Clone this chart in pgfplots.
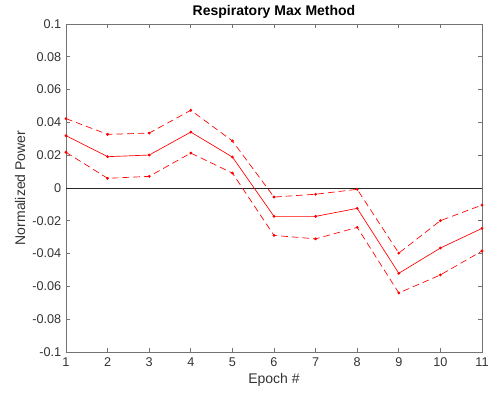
\documentclass[border=0pt]{standalone}
\usepackage{pgfplots}
\pgfplotsset{compat=1.18}
\usepackage{fontspec}
\setmainfont{Liberation Sans}
\definecolor{axgray}{gray}{0.45}
\definecolor{txtgray}{gray}{0.2}
\definecolor{mred}{rgb}{1,0,0}

\pgfplotstableread{
epoch mean upper lower
1   0.0319  0.0423  0.0218
2   0.0191  0.0327  0.0059
3   0.0201  0.0335  0.0071
4   0.0341  0.0474  0.0213
5   0.0189  0.0287  0.0091
6  -0.0173 -0.0055 -0.0289
7  -0.0173 -0.0038 -0.0310
8  -0.0124 -0.0008 -0.0240
9  -0.0520 -0.0397 -0.0640
10 -0.0366 -0.0199 -0.0530
11 -0.0246 -0.0104 -0.0384
}\resp

\begin{document}
\begin{tikzpicture}
\path[use as bounding box] (-49.5pt,-31.5pt) rectangle (318.75pt,264pt);
\begin{axis}[
  at={(0,0)}, anchor=south west,
  scale only axis, width=312pt, height=246pt,
  xmin=1, xmax=11, ymin=-0.1, ymax=0.1,
  xtick={1,...,11},
  ytick={-0.1,-0.08,-0.06,-0.04,-0.02,0,0.02,0.04,0.06,0.08,0.1},
  yticklabels={-0.1,-0.08,-0.06,-0.04,-0.02,0,0.02,0.04,0.06,0.08,0.1},
  xticklabels={1,2,3,4,5,6,7,8,9,10,11},
  tick align=inside,
  major tick length=3pt,
  axis line style={axgray, line width=0.5pt},
  every tick/.style={axgray, line width=0.5pt},
  tick label style={font=\fontsize{9.5}{11}\selectfont, text=txtgray},
  xticklabel style={yshift=-1pt},
  label style={font=\fontsize{10.5}{12}\selectfont, text=txtgray},
  xlabel={Epoch \#},
  ylabel={Normalized Power},
  xlabel style={yshift=2pt},
  ylabel style={yshift=-1.5pt},
  title={\textbf{Respiratory Max Method}},
  title style={font=\fontsize{10.5}{12}\selectfont, yshift=-5pt},
  clip=false,
]
\addplot[black!85, line width=0.5pt, forget plot] coordinates {(1,0) (11,0)};
\addplot[mred, line width=0.5pt, mark=*, mark size=0.8pt] table[x=epoch, y=mean] {\resp};
\addplot[mred, line width=0.5pt, dash pattern=on 5pt off 3pt, mark=*, mark size=0.8pt, mark options={solid}] table[x=epoch, y=upper] {\resp};
\addplot[mred, line width=0.5pt, dash pattern=on 5pt off 3pt, mark=*, mark size=0.8pt, mark options={solid}] table[x=epoch, y=lower] {\resp};
\end{axis}
\end{tikzpicture}
\end{document}
